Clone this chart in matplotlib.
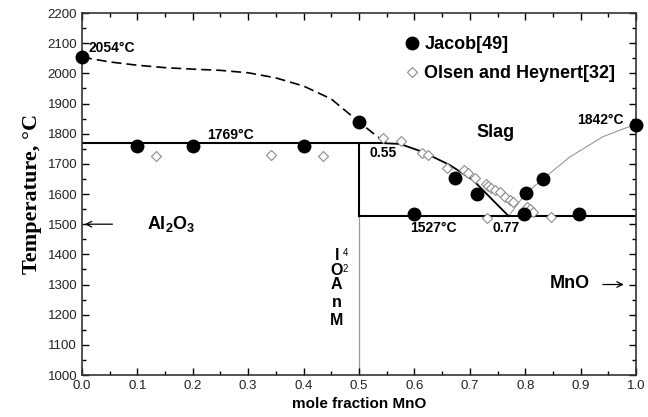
import matplotlib
matplotlib.use('Agg')
import matplotlib.pyplot as plt
import numpy as np

# Jacob[49] data (filled circles)
jacob_x = [0.0, 0.10, 0.20, 0.40, 0.50, 0.60, 0.673, 0.713, 0.798, 0.801, 0.832, 0.897, 1.0]
jacob_T = [2054, 1759, 1758, 1760, 1839, 1534, 1653, 1600, 1534, 1605, 1650, 1534, 1830]

# Olsen and Heynert[32] data (open diamonds)
olsen_x = [0.134, 0.342, 0.435, 0.543, 0.576, 0.613, 0.625, 0.659, 0.690, 0.697, 0.709,
           0.729, 0.733, 0.738, 0.745, 0.755, 0.764, 0.773, 0.778, 0.803, 0.809, 0.814,
           0.731, 0.847]
olsen_T = [1725, 1728, 1725, 1786, 1776, 1736, 1730, 1686, 1680, 1670, 1653,
           1632, 1625, 1620, 1613, 1607, 1590, 1580, 1573, 1557, 1550, 1540,
           1522, 1524]

# phase boundaries
dash_x = [0.0, 0.05, 0.10, 0.15, 0.20, 0.25, 0.30, 0.35, 0.40, 0.45, 0.50, 0.53, 0.55]
dash_T = [2054, 2038, 2027, 2019, 2014, 2010, 2002, 1985, 1958, 1915, 1839, 1795, 1769]
liq_x = [0.54, 0.574, 0.616, 0.664, 0.706, 0.736, 0.77]
liq_T = [1769, 1766, 1739, 1696, 1646, 1590, 1527]
mno_x = [0.77, 0.80, 0.832, 0.88, 0.94, 1.0]
mno_T = [1527, 1600, 1650, 1722, 1790, 1832]
T_peritectic = 1769
T_eutectic = 1527

plt.rcParams['font.family'] = ['Liberation Sans', 'DejaVu Sans']
plt.rcParams['mathtext.fontset'] = 'custom'
plt.rcParams['mathtext.rm'] = 'Liberation Sans:bold'
plt.rcParams['mathtext.bf'] = 'Liberation Sans:bold'

fig = plt.figure(figsize=(6.48, 4.17), dpi=100)
ax = fig.add_axes([0.1265, 0.1007, 0.855, 0.868])

# boundaries
ax.plot([0, 0.5, 0.54], [T_peritectic] * 3, color='black', lw=1.5, zorder=2)
ax.plot([0.5, 1.0], [T_eutectic, T_eutectic], color='black', lw=1.5, zorder=2)
ax.plot([0.5, 0.5], [T_eutectic, T_peritectic], color='black', lw=1.5, zorder=2)
ax.plot([0.5, 0.5], [1000, T_eutectic], color='#999999', lw=0.9, zorder=1)
ax.plot(dash_x, dash_T, color='black', lw=1.2, ls=(0, (6, 3)), zorder=2)
ax.plot(liq_x, liq_T, color='black', lw=1.3, zorder=2)
ax.plot(mno_x, mno_T, color='#999999', lw=0.8, zorder=1)

ax.plot(olsen_x, olsen_T, ls='none', marker='D', ms=5.5, mfc='white', mec='#8c8c8c',
        mew=0.8, label='Olsen and Heynert[32]', zorder=3)
ax.plot(jacob_x, jacob_T, ls='none', marker='o', ms=9, color='black',
        label='Jacob[49]', zorder=4, clip_on=False)

h, l = ax.get_legend_handles_labels()
ax.legend(h[::-1], l[::-1], loc='upper left', bbox_to_anchor=(0.582, 0.936), frameon=False,
          prop={'weight': 'bold', 'size': 13}, handlelength=0.8, handletextpad=0.3,
          labelspacing=0.65, borderpad=0, borderaxespad=0)

# labels on the diagram
bold = dict(fontweight='bold', color='black')
ax.text(0.012, 2084, '2054°C', fontsize=10, va='center', **bold)
ax.text(0.226, 1795, '1769°C', fontsize=10, va='center', **bold)
ax.text(0.519, 1737, '0.55', fontsize=10, va='center', **bold)
ax.text(0.712, 1805, 'Slag', fontsize=13, va='center', **bold)
ax.text(0.977, 1845, '1842°C', fontsize=10, ha='right', va='center', **bold)
ax.text(0.592, 1488, '1527°C', fontsize=10, va='center', **bold)
ax.text(0.741, 1488, '0.77', fontsize=10, va='center', **bold)
ax.text(0.118, 1500, r'Al$_\mathbf{2}$O$_\mathbf{3}$', fontsize=13, va='center', **bold)
ax.text(0.845, 1302, 'MnO', fontsize=13, va='center', **bold)
ax.annotate('', xy=(0.0, 1500), xytext=(0.06, 1500),
            arrowprops=dict(arrowstyle='->', color='black', lw=0.9))
ax.annotate('', xy=(0.983, 1300), xytext=(0.935, 1300),
            arrowprops=dict(arrowstyle='->', color='black', lw=0.9))

# garbled vertical MnAl2O4 label
stack_chars = ['M', 'n', 'A', 'O', 'l']
stack_T = [1182, 1242, 1300, 1347, 1396]
for c, t in zip(stack_chars, stack_T):
    ax.text(0.46, t, c, fontsize=11.5, ha='center', va='center', **bold)
ax.text(0.476, 1350, '2', fontsize=7, ha='center', va='center', color='black')
ax.text(0.476, 1405, '4', fontsize=7, ha='center', va='center', color='black')

ax.set_xlim(0, 1)
ax.set_ylim(1000, 2200)
ax.set_xticks(np.arange(0, 1.01, 0.1))
ax.set_xticks(np.arange(0.05, 1, 0.1), minor=True)
ax.set_yticks(np.arange(1000, 2201, 100))
ax.set_yticks(np.arange(1050, 2200, 100), minor=True)
ax.xaxis.set_major_formatter(matplotlib.ticker.FormatStrFormatter('%.1f'))
ax.tick_params(which='both', direction='in', top=True, right=True, labelsize=9.5,
               colors='black', labelcolor='#222222')
ax.tick_params(which='major', length=5, width=1)
ax.tick_params(which='minor', length=3, width=1)
for s in ax.spines.values():
    s.set_linewidth(1.2)
    s.set_color('#333333')

ax.set_xlabel('mole fraction MnO', fontsize=11, fontweight='bold', labelpad=4)
ax.set_ylabel('Temperature, °C', fontsize=16, fontweight='bold',
              family='Liberation Serif', labelpad=4)

fig.savefig('out.png', dpi=100)
